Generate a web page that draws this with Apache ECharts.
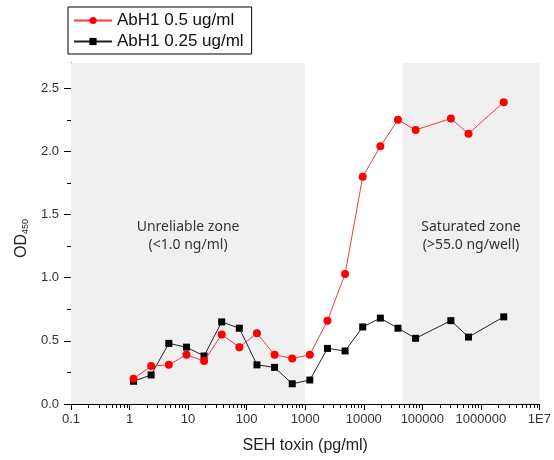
<!DOCTYPE html>
<html>
<head>
<meta charset="utf-8">
<script src="https://cdn.jsdelivr.net/npm/echarts@6/dist/echarts.min.js"></script>
<style>
html,body{margin:0;padding:0;background:#fff;}
#chart{width:554px;height:460px;}
</style>
</head>
<body>
<div id="chart"></div>
<script>
// ---- data ----
const seriesNames = ['AbH1 0.5 ug/ml', 'AbH1 0.25 ug/ml'];
// SEH toxin concentrations (pg/ml), 2-fold dilutions
const concRed = [1.17, 2.34, 4.69, 9.38, 18.75, 37.5, 75, 150, 300, 600, 1200, 2400, 4800, 9600, 19200, 38400, 76800, 307200, 614400, 2457600];
const odRed   = [0.20, 0.30, 0.31, 0.39, 0.34, 0.55, 0.45, 0.56, 0.39, 0.36, 0.39, 0.66, 1.03, 1.80, 2.04, 2.25, 2.17, 2.26, 2.14, 2.39];
const concBlack = [1.17, 2.34, 4.69, 9.38, 18.75, 37.5, 75, 150, 300, 600, 1200, 2400, 4800, 9600, 19200, 38400, 76800, 307200, 614400, 2457600];
const odBlack   = [0.18, 0.23, 0.48, 0.45, 0.38, 0.65, 0.60, 0.31, 0.29, 0.16, 0.19, 0.44, 0.42, 0.61, 0.68, 0.60, 0.52, 0.66, 0.53, 0.69];
const xTickLabels = ['0.1', '1', '10', '100', '1000', '10000', '100000', '1000000', '1E7'];
const yTickValues = [0, 0.5, 1.0, 1.5, 2.0, 2.5];
const yMinorTickValues = [0.25, 0.75, 1.25, 1.75, 2.25];
const unreliableZone = [0.1, 1000];
const saturatedZone = [46000, 1e7];
const zoneLabels = ['Unreliable zone\n(<1.0 ng/ml)', 'Saturated zone\n(>55.0 ng/well)'];

// log minor tick values (2..9 per decade)
const xMinorTickValues = [];
for (let e = -1; e < 7; e++) {
  for (let m = 2; m <= 9; m++) xMinorTickValues.push(m * Math.pow(10, e));
}

const pair = (xs, ys) => xs.map((x, i) => [x, ys[i]]);

const chart = echarts.init(document.getElementById('chart'), null, {renderer: 'canvas'});
const axisFont = 'Liberation Sans, Arial, sans-serif';

chart.setOption({
  animation: false,
  backgroundColor: '#fff',
  grid: {left: 70, right: 12, top: 63, bottom: 56},
  legend: {
    orient: 'vertical',
    left: 68, top: 7,
    data: seriesNames,
    borderColor: '#000', borderWidth: 1,
    backgroundColor: '#fff',
    padding: [5, 8, 4, 5],
    itemGap: 4,
    itemWidth: 38, itemHeight: 9,
    textStyle: {fontFamily: axisFont, fontSize: 17, color: '#111'}
  },
  xAxis: [{
    type: 'log', logBase: 10, min: 0.1, max: 1e7, interval: 1,
    position: 'bottom',
    name: 'SEH toxin (pg/ml)', nameLocation: 'middle', nameGap: 34,
    nameTextStyle: {fontFamily: axisFont, fontSize: 16, color: '#222'},
    axisLine: {lineStyle: {color: '#000', width: 1}},
    axisTick: {show: true, length: 6, inside: false, lineStyle: {color: '#000'}},
    axisLabel: {
      margin: 9, fontFamily: axisFont, fontSize: 13, color: '#333',
      formatter: v => xTickLabels[Math.round(Math.log10(v)) + 1] || ''
    },
    splitLine: {show: false}
  }, {
    type: 'log', logBase: 10, min: 0.1, max: 1e7,
    position: 'bottom', gridIndex: 0,
    axisLine: {show: false},
    axisTick: {show: true, length: 4, customValues: xMinorTickValues, lineStyle: {color: '#000'}},
    axisLabel: {show: false},
    splitLine: {show: false}
  }],
  yAxis: [{
    type: 'value', min: 0, max: 2.7,
    name: '{a|OD}{b|450}', nameLocation: 'middle', nameGap: 39, nameRotate: 90,
    nameTextStyle: {
      fontFamily: axisFont, color: '#222', padding: [0, 10, 0, 0],
      rich: {
        a: {fontFamily: axisFont, fontSize: 16, lineHeight: 16, color: '#222', verticalAlign: 'top'},
        b: {fontFamily: axisFont, fontSize: 9, lineHeight: 9, color: '#222', verticalAlign: 'bottom', padding: [13, 0, 0, 0]}
      }
    },
    axisLine: {show: true, lineStyle: {color: '#000', width: 1}},
    axisTick: {show: true, length: 7, customValues: yTickValues, lineStyle: {color: '#000'}},
    axisLabel: {
      customValues: yTickValues,
      margin: 12, fontFamily: axisFont, fontSize: 13, color: '#333',
      formatter: v => v.toFixed(1)
    },
    splitLine: {show: false}
  }, {
    type: 'value', min: 0, max: 2.7, position: 'left', gridIndex: 0,
    axisLine: {show: false},
    axisTick: {show: true, length: 4, customValues: yMinorTickValues, lineStyle: {color: '#000'}},
    axisLabel: {show: false},
    splitLine: {show: false}
  }],
  series: [{
    name: seriesNames[0],
    type: 'line',
    data: pair(concRed, odRed),
    symbol: 'circle', symbolSize: 8,
    itemStyle: {color: '#ff0000'},
    lineStyle: {color: '#e84040', width: 1},
    z: 3,
    markArea: {
      silent: true,
      itemStyle: {color: '#f0f0f0'},
      label: {
        show: true, position: 'inside', offset: [0, 3],
        fontFamily: 'Noto Sans, Open Sans, sans-serif', fontSize: 14, color: '#333', lineHeight: 18
      },
      data: [
        [{xAxis: unreliableZone[0], name: zoneLabels[0]}, {xAxis: unreliableZone[1]}],
        [{xAxis: saturatedZone[0], name: zoneLabels[1]}, {xAxis: saturatedZone[1]}]
      ]
    }
  }, {
    name: seriesNames[1],
    type: 'line',
    data: pair(concBlack, odBlack),
    symbol: 'rect', symbolSize: 7,
    itemStyle: {color: '#000'},
    lineStyle: {color: '#222', width: 1},
    z: 2
  }]
});
</script>
</body>
</html>
